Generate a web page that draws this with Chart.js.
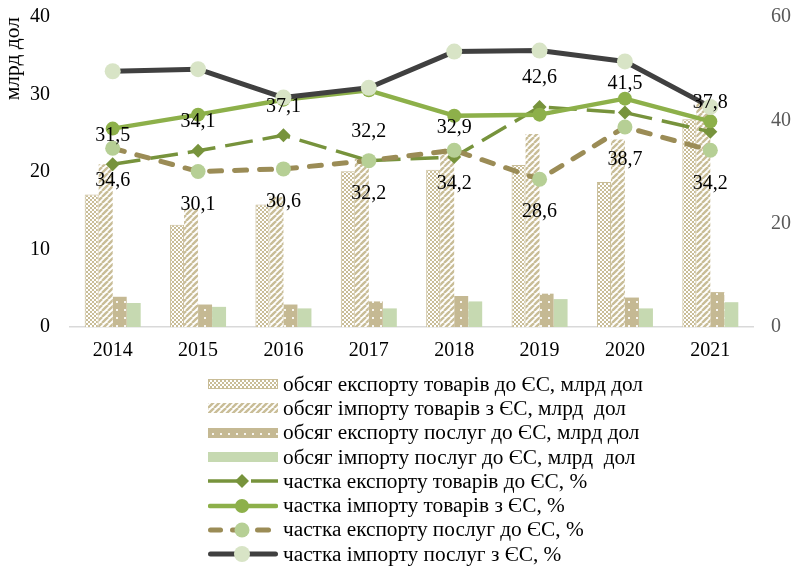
<!DOCTYPE html>
<html>
<head>
<meta charset="utf-8">
<script src="https://cdn.jsdelivr.net/npm/chart.js@4.4.1/dist/chart.umd.min.js"></script>
<style>
  html, body { margin: 0; padding: 0; background: #fff; }
  #wrap { position: relative; width: 796px; height: 567px; overflow: hidden; }
  #chart { position: absolute; left: 0; top: -7px; }
  #legend { position: absolute; left: 208px; top: 372px; font-family: "Liberation Serif", serif; font-size: 21.3px; color: #000; }
  .row { display: flex; align-items: center; height: 24.3px; white-space: pre; }
  .row canvas { margin-right: 5px; }
</style>
</head>
<body>
<div id="wrap">
  <canvas id="chart" width="796" height="574"></canvas>
  <div id="legend"></div>
</div>
<script>
const years = ['2014', '2015', '2016', '2017', '2018', '2019', '2020', '2021'];

// bars, млрд дол (left axis)
const exportGoods = [17.1, 13.2, 15.8, 20.1, 20.3, 20.9, 18.7, 26.8];
const importGoods = [21.0, 15.3, 16.8, 21.7, 23.0, 24.9, 24.2, 28.9];
const exportServices = [3.9, 2.9, 2.9, 3.3, 4.0, 4.3, 3.8, 4.5];
const importServices = [3.1, 2.6, 2.4, 2.4, 3.3, 3.6, 2.4, 3.2];

// shares, % (right axis)
const exportGoodsShare = [31.5, 34.1, 37.1, 32.2, 32.9, 42.6, 41.5, 37.8];
const importGoodsShare = [38.4, 41.1, 44.0, 45.8, 40.9, 41.1, 44.2, 39.8];
const exportServicesShare = [34.6, 30.1, 30.6, 32.2, 34.2, 28.6, 38.7, 34.2];
const importServicesShare = [49.5, 49.9, 44.4, 46.3, 53.3, 53.5, 51.4, 42.6];

const leftTicks = [0, 10, 20, 30, 40];
const rightTicks = [0, 20, 40, 60];

const names = [
  'обсяг експорту товарів до ЄС, млрд дол',
  'обсяг імпорту товарів з ЄС, млрд  дол',
  'обсяг експорту послуг до ЄС, млрд дол',
  'обсяг імпорту послуг до ЄС, млрд  дол',
  'частка експорту товарів до ЄС, %',
  'частка імпорту товарів з ЄС, %',
  'частка експорту послуг до ЄС, %',
  'частка імпорту послуг з ЄС, %'
];

const FONT = '"Liberation Serif", "Times New Roman", serif';
const BEIGE = '#c9bd97';

// pattern tiles
function tile(kind) {
  const t = document.createElement('canvas');
  const g = t.getContext('2d');
  if (kind === 'cross') {
    t.width = 4; t.height = 4;
    g.fillStyle = '#fff'; g.fillRect(0, 0, 4, 4);
    g.fillStyle = BEIGE;
    g.fillRect(0, 0, 2, 2); g.fillRect(2, 2, 2, 2);
  } else if (kind === 'diag') {
    t.width = 6; t.height = 6;
    g.fillStyle = '#fff'; g.fillRect(0, 0, 6, 6);
    g.strokeStyle = BEIGE; g.lineWidth = 2.4;
    [-6, 0, 6].forEach(k => { g.beginPath(); g.moveTo(k, 6); g.lineTo(k + 6, 0); g.stroke(); });
  } else if (kind === 'dots') {
    t.width = 8; t.height = 8;
    g.fillStyle = '#c5b993'; g.fillRect(0, 0, 8, 8);
    g.fillStyle = 'rgba(255,255,255,0.85)'; g.fillRect(4, 4, 2, 2);
  }
  return t;
}
const tiles = { cross: tile('cross'), diag: tile('diag'), dots: tile('dots') };
function fills(ctx) {
  return [
    ctx.createPattern(tiles.cross, 'repeat'),
    ctx.createPattern(tiles.diag, 'repeat'),
    ctx.createPattern(tiles.dots, 'repeat'),
    '#c6d9b1'
  ];
}

const lineStyles = [
  { color: '#77933c', width: 3.5, dash: [28, 10], cap: 'butt', point: 'rectRot', r: 7, pfill: '#77933c' },
  { color: '#8db04a', width: 4.5, dash: [], cap: 'round', point: 'circle', r: 7, pfill: '#8db04a' },
  { color: '#9b8c56', width: 5, dash: [12, 13], cap: 'round', point: 'circle', r: 7.5, pfill: '#b6cf95' },
  { color: '#404040', width: 5, dash: [], cap: 'round', point: 'circle', r: 8, pfill: '#d8e4c6' }
];
// legend swatch segments (x from, x to) per line row
const legendSegs = [
  [[0, 36], [43, 70]],
  [[2, 68]],
  [[2.5, 12.5], [24.5, 27.5], [49.5, 60.5]],
  [[2.5, 67.5]]
];

const valueLabels = {
  id: 'valueLabels',
  afterDatasetsDraw(chart) {
    const c = chart.ctx;
    c.save();
    c.font = '20px ' + FONT;
    c.fillStyle = '#000';
    c.textAlign = 'center';
    c.textBaseline = 'middle';
    // export goods share above the point, export services share below
    [[4, -29], [6, 33]].forEach(([di, dy]) => {
      chart.getDatasetMeta(di).data.forEach((pt, i) => {
        const v = chart.data.datasets[di].data[i];
        c.fillText(v.toFixed(1).replace('.', ','), pt.x, pt.y + dy);
      });
    });
    c.restore();
  }
};

const ctx = document.getElementById('chart').getContext('2d');
const barFills = fills(ctx);
const barData = [exportGoods, importGoods, exportServices, importServices];
const shareData = [exportGoodsShare, importGoodsShare, exportServicesShare, importServicesShare];

const datasets = [];
barData.forEach((d, i) => {
  datasets.push({
    type: 'bar',
    label: names[i],
    data: d,
    yAxisID: 'y',
    backgroundColor: barFills[i],
    borderColor: i === 0 ? BEIGE : 'rgba(0,0,0,0)',
    borderWidth: i === 0 ? 1 : 0,
    barPercentage: 1,
    categoryPercentage: 0.656,
    order: 10 + i
  });
});
shareData.forEach((d, i) => {
  const s = lineStyles[i];
  datasets.push({
    type: 'line',
    label: names[4 + i],
    data: d,
    yAxisID: 'y2',
    borderColor: s.color,
    borderWidth: s.width,
    borderDash: s.dash,
    borderCapStyle: s.cap,
    borderJoinStyle: 'round',
    tension: 0,
    fill: false,
    pointStyle: s.point,
    pointRadius: s.r,
    pointBackgroundColor: s.pfill,
    pointBorderColor: s.pfill,
    pointBorderWidth: 0,
    order: 4 - i
  });
});

new Chart(ctx, {
  type: 'bar',
  data: { labels: years, datasets },
  options: {
    responsive: false,
    animation: false,
    layout: { autoPadding: false, padding: { top: 6 } },
    plugins: {
      legend: { display: false },
      tooltip: { enabled: false }
    },
    scales: {
      x: {
        grid: { display: false },
        border: { color: '#d9d9d9', width: 1.5 },
        ticks: { color: '#000', font: { family: FONT, size: 20 }, padding: 4 },
        afterFit: s => { s.height = 240; }
      },
      y: {
        position: 'left',
        min: 0,
        max: 40,
        afterBuildTicks: s => { s.ticks = leftTicks.map(v => ({ value: v })); },
        ticks: { color: '#000', font: { family: FONT, size: 20 }, padding: 12 },
        grid: { display: false },
        border: { display: false },
        title: { display: true, text: 'млрд дол', align: 'end', color: '#000', font: { family: FONT, size: 21.5 }, padding: 0 },
        afterFit: s => { s.width = 70; }
      },
      y2: {
        position: 'right',
        min: 0,
        max: 60,
        afterBuildTicks: s => { s.ticks = rightTicks.map(v => ({ value: v })); },
        ticks: { color: '#595959', font: { family: FONT, size: 20 }, padding: 10 },
        grid: { display: false },
        border: { display: false },
        afterFit: s => { s.width = 43; }
      }
    }
  },
  plugins: [valueLabels]
});

// legend
const legend = document.getElementById('legend');
names.forEach((name, i) => {
  const row = document.createElement('div');
  row.className = 'row';
  const sw = document.createElement('canvas');
  sw.width = 70; sw.height = 24;
  const g = sw.getContext('2d');
  if (i < 4) {
    g.fillStyle = fills(g)[i];
    g.fillRect(0, 7, 70, 10);
    if (i === 0) { g.strokeStyle = BEIGE; g.lineWidth = 1; g.strokeRect(0.5, 7.5, 69, 9); }
  } else {
    const s = lineStyles[i - 4];
    g.strokeStyle = s.color;
    g.lineWidth = s.width;
    g.lineCap = s.cap;
    legendSegs[i - 4].forEach(([a, b]) => { g.beginPath(); g.moveTo(a, 12); g.lineTo(b, 12); g.stroke(); });
    g.fillStyle = s.pfill;
    g.beginPath();
    if (s.point === 'rectRot') {
      g.moveTo(34, 12 - s.r); g.lineTo(34 + s.r, 12); g.lineTo(34, 12 + s.r); g.lineTo(34 - s.r, 12);
    } else {
      g.arc(34, 12, s.r, 0, Math.PI * 2);
    }
    g.closePath(); g.fill();
  }
  const txt = document.createElement('span');
  txt.textContent = name;
  row.appendChild(sw);
  row.appendChild(txt);
  legend.appendChild(row);
});
</script>
</body>
</html>
